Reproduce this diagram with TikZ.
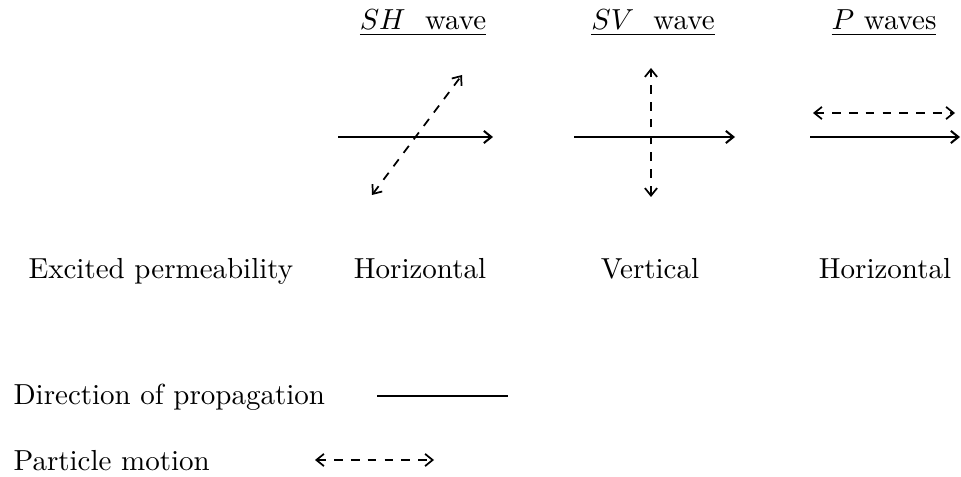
\documentclass[tikz,border=0pt]{standalone}
\usepackage{tikz}
\usetikzlibrary{arrows.meta}

\begin{document}
\begin{tikzpicture}[
    x=0.345pt, y=-0.345pt,
    >={Straight Barb[length=2.6pt, width=4.2pt]},
    prop/.style={->, line width=0.7pt},
    motion/.style={<->, line width=0.6pt, dash pattern=on 3pt off 2.8pt},
    head/.style={anchor=base, inner sep=0pt},
    lab/.style={anchor=base, inner sep=0pt},
    leftlab/.style={anchor=base west, inner sep=0pt},
]
\useasboundingbox (0,0) rectangle (961,477);

% Headings
\node[head] (shhead) at (423, 30) {\underline{$SH$\ \ wave}};
\node[head] (svhead) at (653, 30) {\underline{$SV$\ \ wave}};
\node[head] (phead) at (884, 30) {\underline{$P$ waves}};

% SH wave
\coordinate (shfrom) at (338, 137);
\coordinate (shto) at (493, 137);
\coordinate (shlow) at (372, 195);
\coordinate (shhigh) at (462, 75);
\draw[prop] (shfrom) -- (shto);
\draw[motion] (shlow) -- (shhigh);

% SV wave
\coordinate (svfrom) at (574, 137);
\coordinate (svto) at (735, 137);
\coordinate (svlow) at (651, 197);
\coordinate (svhigh) at (651, 68);
\draw[prop] (svfrom) -- (svto);
\draw[motion] (svlow) -- (svhigh);

% P waves
\coordinate (pfrom) at (810, 137);
\coordinate (pto) at (960, 137);
\coordinate (pleft) at (813, 113);
\coordinate (pright) at (955, 113);
\draw[prop] (pfrom) -- (pto);
\draw[motion] (pleft) -- (pright);

% Excited permeability row
\node[leftlab] (excited) at (28, 279) {Excited permeability};
\node[lab] (shlab) at (420, 279) {Horizontal};
\node[lab] (svlab) at (650, 279) {Vertical};
\node[lab] (plab) at (885, 279) {Horizontal};

% Legend
\node[leftlab] (dirlab) at (13, 405) {Direction of propagation};
\coordinate (dirfrom) at (377, 396);
\coordinate (dirto) at (508, 396);
\draw[line width=0.7pt] (dirfrom) -- (dirto);

\node[leftlab] (partlab) at (13, 470) {Particle motion};
\coordinate (partleft) at (315, 460);
\coordinate (partright) at (434, 460);
\draw[motion] (partleft) -- (partright);

\end{tikzpicture}
\end{document}
